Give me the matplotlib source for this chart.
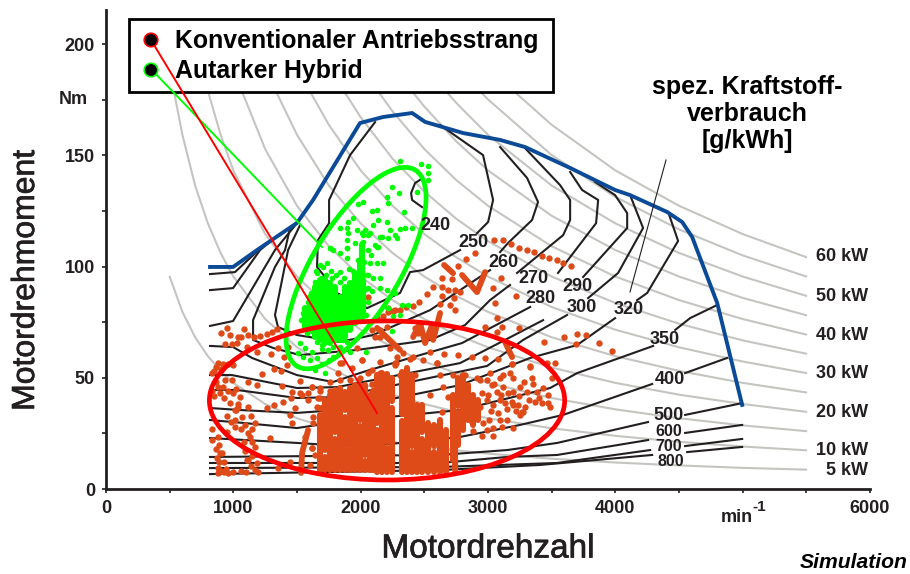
import matplotlib
matplotlib.use("Agg")
import matplotlib.pyplot as plt
import matplotlib.patheffects as pe
from matplotlib.patches import Ellipse, Rectangle
from matplotlib.transforms import Affine2D

plt.rcParams['font.family'] = ['Liberation Sans', 'DejaVu Sans']

# power hyperbolas, read at these speeds; each row is aligned to the right of GRID_RPM
GRID_RPM = [500, 600, 700, 800, 900, 1000, 1250, 1500, 1750, 2000, 2250, 2500, 2750, 3000, 3500, 4000, 4500, 5000, 5500]
POWER_START_RPM = [None, 536, 805, 1073, 1341, 1609, 1878, 2146, 2414, 2682, 2950, 3219]
POWER_TORQUE = [
    [95.5, 79.6, 68.2, 59.7, 53.1, 47.7, 38.2, 31.8, 27.3, 23.9, 21.2, 19.1, 17.4, 15.9, 13.6, 11.9, 10.6, 9.5, 8.7],
    [159.2, 136.4, 119.4, 106.1, 95.5, 76.4, 63.7, 54.6, 47.7, 42.4, 38.2, 34.7, 31.8, 27.3, 23.9, 21.2, 19.1, 17.4],
    [159.2, 143.2, 114.6, 95.5, 81.8, 71.6, 63.7, 57.3, 52.1, 47.7, 40.9, 35.8, 31.8, 28.6, 26.0],
    [152.8, 127.3, 109.1, 95.5, 84.9, 76.4, 69.4, 63.7, 54.6, 47.7, 42.4, 38.2, 34.7],
    [159.2, 136.4, 119.4, 106.1, 95.5, 86.8, 79.6, 68.2, 59.7, 53.1, 47.7, 43.4],
    [163.7, 143.2, 127.3, 114.6, 104.2, 95.5, 81.8, 71.6, 63.7, 57.3, 52.1],
    [167.1, 148.5, 133.7, 121.5, 111.4, 95.5, 83.6, 74.3, 66.8, 60.8],
    [169.8, 152.8, 138.9, 127.3, 109.1, 95.5, 84.9, 76.4, 69.4],
    [171.9, 156.3, 143.2, 122.8, 107.4, 95.5, 85.9, 78.1],
    [173.6, 159.2, 136.4, 119.4, 106.1, 95.5, 86.8],
    [175.1, 150.1, 131.3, 116.7, 105.0, 95.5],
    [163.7, 143.2, 127.3, 114.6, 104.2],
]
POWER_LABELS = ['60 kW', '50 kW', '40 kW', '30 kW', '20 kW', '10 kW', '5 kW']
POWER_LABEL_NM = [104.7, 86.7, 68.8, 52.1, 34.6, 17.1, 8.5]

FULL_LOAD_RPM = [817, 998, 1186, 1500, 1626, 1995, 2176, 2404, 2506, 2804, 3095, 3291, 3645, 3998, 4116, 4407, 4525, 4603, 4800, 4996]
FULL_LOAD_NM = [99.8, 99.8, 107.4, 119.6, 129.9, 164.5, 167.2, 169, 165, 160, 156.9, 153.7, 144.3, 134.4, 132.1, 124.5, 120, 113.3, 83.6, 37.8]

# fuel consumption isolines, broken where the labels sit
SFC_LINES = [
    ([2490, 2427, 2396, 2404, 2482], [139.8, 137.5, 133, 129.9, 126.7]),
    ([2113, 1917, 1752, 1752, 1665, 1657, 1720, 1799, 2050, 2309, 2388, 2490, 2781],
     [164.9, 150.1, 129.9, 119.5, 111.9, 99.8, 95.3, 88.5, 81.3, 88.1, 97.5, 98.4, 107.4]),
    ([2624, 2961, 3040, 3001, 2914], [163.6, 150.1, 129.9, 120, 115]),
    ([3095, 3307, 3393, 3346, 3158, 3095], [153.7, 139.8, 129, 120.9, 110.6, 106.5]),
    ([3291, 3566, 3645, 3645, 3590, 3228], [153.2, 136.6, 129.9, 120.9, 114.1, 97.1]),
    ([3645, 3739, 3865, 3849, 3550], [142.5, 134.4, 129.9, 119.5, 97.1]),
    ([3841, 3998, 4093, 4093, 3747], [138, 132.1, 124, 117.3, 95.3]),
    ([4116, 4218, 4022, 3786], [132.1, 117.3, 97.1, 85.8]),
    ([4415, 4493, 4250, 4171], [124.5, 111.5, 88.1, 84.9]),
    ([1524, 1430, 1327, 1351, 1500, 1838, 2097, 2545, 2781, 3016],
     [118.6, 107.4, 78.2, 72.8, 69.2, 66.1, 69.2, 80.4, 89.4, 98.4]),
    ([1445, 1406, 1327, 1155, 1155, 1312, 1524, 1972, 2545, 2820, 3016, 3173],
     [117.3, 107.4, 99.8, 75.9, 67, 63.4, 60.2, 62.5, 67, 73.7, 84.9, 91.7]),
    ([817, 998, 1147, 1500, 1783, 2019, 2412, 2796, 3331], [64.3, 63.8, 58.9, 51.2, 48.1, 52.6, 59.3, 65.6, 81.8]),
    ([817, 990, 1500, 1815, 2781, 3056, 3433], [51.2, 51.2, 45.4, 45.8, 56.6, 64.7, 75.9]),
    ([817, 1029, 1500, 1815, 2993, 3276, 3621], [44.5, 44.5, 40.9, 41.3, 55.3, 67, 78.2]),
    ([817, 1053, 1500, 1815, 2781, 3331, 3700, 3998], [36.4, 35.5, 34.2, 35.5, 46.7, 58.9, 64.7, 76.8]),
    ([817, 1076, 1500, 1815, 2781, 3488, 3700, 4297], [31, 29.7, 27.4, 30.1, 35.5, 45.4, 52.1, 64.3]),
    ([4470, 4587, 4800], [71.5, 76.8, 82.7]),
    ([817, 1500, 1995, 2781, 3252, 3590, 4289], [22.9, 20.7, 18.9, 23.4, 28.8, 33.3, 47.2]),
    ([4548, 4878], [52.1, 58.9]),
    ([817, 2624, 3150, 3543, 4257], [14.4, 15.3, 17.5, 20.7, 30.1]),
    ([4548, 4996], [33.3, 38.6]),
    ([817, 2624, 3150, 3543, 4257], [11.7, 11.7, 14.4, 15.3, 22]),
    ([4548, 4996], [25.2, 28.8]),
    ([817, 2624, 3543, 4273], [9.4, 9.9, 11.7, 17.5]),
    ([4548, 4996], [19.3, 22.5]),
    ([817, 2624, 3409, 4289], [6.7, 8.5, 10.8, 15.3]),
    ([4564, 4996], [16.6, 18.9]),
    ([817, 1013, 1131, 1225], [96.6, 97.5, 103.8, 108.8]),
    ([817, 998, 1210, 1343], [89.4, 90.3, 107.4, 113.7]),
    ([817, 998, 1327, 1500], [73.3, 75.5, 107.4, 119.5]),
]
SFC_LABELS = ['240', '250', '260', '270', '280', '290', '300', '320', '350', '400', '500', '600', '700', '800']
SFC_LABEL_RPM = [2584, 2883, 3118, 3354, 3409, 3700, 3739, 4108, 4391, 4430, 4415, 4422, 4422, 4438]
SFC_LABEL_NM = [118.6, 110.6, 101.6, 94.4, 85.8, 90.8, 81.8, 80.9, 67.4, 49.4, 33.2, 26.0, 19.2, 12.4]

# conventional drivetrain: dense runs of points as rpm / low / high, split where the cloud has holes
CONV_RUN_RPM = [1681, 1720, 1720, 1760, 1799, 1799, 1838, 1877, 1877, 1917, 1917, 1956, 1995, 1995, 2034, 2034, 2074, 2100,
                2129, 2129, 2168, 2207, 2207, 2247, 2247, 2325, 2325, 2364, 2404, 2404, 2443, 2482, 2482,
                2529, 2576, 2576, 2624, 2671, 2726, 2765, 2765, 2804, 2843, 2883, 2922, 2741]
CONV_RUN_LOW = [8.5, 8.5, 17.5, 8.5, 8.5, 25.5, 8.5, 8.5, 35.5, 8.5, 20, 8.5, 8.5, 31, 8.5, 15.5, 8.5, 8.5,
                7.6, 29.5, 7.6, 7.6, 21, 7.6, 39.5, 7.6, 33.5, 7.6, 7.6, 19.5, 7.6, 7.6, 25.5,
                7.6, 7.6, 19.5, 7.6, 7.6, 13, 19.8, 37.5, 26.5, 31, 28.8, 31, 8.5]
CONV_RUN_HIGH = [33.3, 14.5, 40, 42.2, 22.5, 44.5, 45.4, 32.5, 43.6, 17.5, 45.4, 46.7, 28.5, 46.7, 12.5, 46.7, 42.2, 44,
                 26.5, 51.2, 52.1, 18.5, 51.7, 36.5, 49.9, 30.5, 52.6, 54.4, 16.5, 51.2, 37.8, 22.5, 37.8,
                 29.7, 16.5, 28.8, 31, 26.5, 42.2, 34.5, 49.9, 51.2, 46.7, 42.2, 40, 20.7]
# wandering runs of points
CONV_TRACES = [
    ([2655, 2726], [100.7, 97]),
    ([2796, 2914, 2977], [96.2, 88.5, 97.5]),
    ([2412, 2467, 2506, 2561, 2569, 2624], [68.3, 74.6, 65.6, 73.7, 67, 79.1]),
    ([3134, 3189], [66.1, 59.3]),
    ([2129, 2309], [72.4, 62.5]),
    ([1587, 1540, 1532], [26.5, 16.2, 7.2]),
]
CONV_RPM = [
    3048, 3118, 3181, 3244, 3307, 3362, 3425, 3480, 3543, 3590, 3653,
    2899, 2828, 2765, 2639, 2718, 2569, 2639, 2521, 2459, 2412, 2357, 2309, 2254, 2215, 2176, 2129, 2639, 2686, 2741, 2781,
    2734, 2702, 2741, 2624, 3103, 3040, 3221, 3056, 3071, 2977, 3111, 3244, 3071, 3441, 3598, 3700, 3770, 3692, 3873, 3975,
    3189, 3079, 2977, 2875, 2765, 2655, 2545, 2600, 2490, 2388, 2278, 2152, 3331, 3464,
    903, 948, 974, 1040, 1087, 1060, 1118, 1165, 1210, 1262, 1301, 1340, 935, 987, 1032, 1105, 1183, 1296, 1348, 1401, 1322,
    1375, 1228, 1118, 1183, 1380, 1464, 1524, 1615, 1681, 1759, 1393, 1524, 1589, 1681, 1453, 1322, 1262, 1484, 1445, 1464,
    1288, 1628, 1681, 1720, 1615, 1445, 1602, 1354, 1105, 1183,
    2218, 2270, 2061, 2152, 2231, 2008, 1851, 1930, 1969, 2270, 1419, 1432, 1825, 2061, 2152, 2414, 2453, 2427, 2152, 2205,
    2087, 2113, 2283, 2336,
    2912, 2990, 3029, 3003, 3069, 3121, 3173, 3200, 3103, 3160, 3200, 3095, 3042, 3134, 3186, 3239, 3291, 3265, 3304, 3383,
    3435, 3474, 3370, 3422, 3474, 3487, 3343, 3330, 3501, 3095, 3147, 3200, 3042, 2964, 3278, 3252, 3200, 2872, 2990, 3527,
    3186, 3095, 3016, 2938, 2728, 2820, 2624, 2597, 2427, 2309, 2270, 2087, 1838, 2008, 2545, 2650, 2689, 2637, 1655, 1707,
    1589, 1681, 1616, 1668, 1537, 1563, 1616, 1629, 1642,
    # left cluster
    832, 850, 860, 880, 905, 920, 960, 998, 935, 915, 895, 925, 974, 1020, 1068, 1090, 1115, 990, 1020, 1053, 1035, 1013, 1013,
    1013, 950, 880, 888, 895, 885, 880, 880, 911, 925, 940, 958, 1170, 1150, 1131, 1150, 1170, 1140, 1115, 1170, 1140, 1115,
    860, 830, 880, 850, 960, 1000, 1040, 950, 985, 1060, 1085, 830, 830, 860, 870, 900, 1090, 1150, 1060, 1100, 1190, 925, 1000,
    # edge of the main block and right cluster
    1760, 1838, 1917, 1995, 2090, 2950, 2990, 3020, 3080, 3120, 3250, 3320, 3350, 3400, 3240, 3280, 3050, 3150, 3220, 3110,
    2940, 3010, 2900, 2880, 2950, 3040,
]
CONV_NM = [
    111.9, 111.9, 110.1, 108.3, 107.4, 106.5, 104.7, 103.8, 102.9, 101.6, 100.2,
    106.1, 103.4, 100.2, 94.8, 94.4, 90.8, 90.8, 87.6, 84, 82.2, 81.8, 80.4, 80, 79.5, 77.7, 76.8, 86.7, 89.4, 89.4, 88.5,
    85.8, 82.7, 80.4, 83.1, 94.8, 90.3, 86.7, 83.6, 76.8, 72.8, 72.8, 72.4, 70.6, 66.1, 68.3, 69.7, 69.2, 65.2, 65.6, 62,
    56.2, 58.4, 58.9, 59.3, 60.2, 60.7, 61.6, 56.6, 58, 58.4, 56.6, 57.1, 55.3, 56.6,
    70.3, 72.2, 69.2, 68.5, 71.8, 68.5, 69.2, 68.5, 68.8, 69.7, 70.7, 71.8, 65.2, 65.2, 65.8, 63.7, 61.7, 60.5, 63.2, 59.2, 53.8,
    53, 51.7, 48.2, 46.7, 46.3, 43.7, 48.5, 46, 44.2, 48.2, 39.2, 43, 40, 40.7, 40.7, 37.8, 36.3, 36.3, 33.3, 29.5,
    22.8, 32.5, 36.3, 37.8, 18.3, 12.3, 10.8, 9.3, 13, 11.8,
    81.2, 80.4, 86.4, 68.5, 63.2, 58, 56.5, 54.2, 63.2, 56.5, 55.7, 64, 52, 52, 52, 59.5, 70, 72.2, 71.5, 73,
    71.5, 68.5, 59.5, 61,
    49.8, 49, 46.8, 42.3, 43.8, 51.3, 52.3, 49.8, 42.3, 43, 43.8, 40, 37.8, 38.5, 39.3, 37.8, 37, 34.8, 43.8, 43.8,
    45.3, 42.3, 39.3, 38.5, 38.5, 37, 49.8, 55, 49.8, 31, 31, 27.3, 27.3, 29.5, 34.8, 33.3, 37.8, 30.3, 26.5, 56.5,
    56.2, 49.8, 52, 49, 51.3, 51.3, 51.3, 56.5, 51.3, 51.3, 55.8, 53.5, 56.5, 58, 42.3, 46, 41.5, 34.8, 37, 37,
    43, 45.3, 46, 40.8, 42.3, 23.5, 18.3, 29.5, 15.3,
    # left cluster
    52.1, 53, 55, 56.6, 54, 56, 56, 55.7, 49, 46, 43.1, 41, 38.6, 35.5, 32.4, 28.8, 25.2, 49, 45, 41.3, 38, 35.5, 31,
    27.9, 25.5, 23.4, 20, 16.2, 12, 7.2, 9.5, 16.2, 12, 9, 7.2, 18.9, 21, 23.4, 27, 29.7, 33, 36.9, 8.5, 10.5, 13,
    48, 44, 46, 42, 44, 43, 37, 33, 30, 27, 21, 27, 22, 18, 14, 8, 17, 15, 8, 7.5, 7.5, 7.5, 7.5,
    # edge of the main block and right cluster
    44, 49, 49, 50, 47, 43, 40, 35, 34, 46, 46, 40, 47, 41, 42, 48, 47, 36, 35, 28,
    37, 31, 33, 26, 24, 24,
]

# autarkic hybrid
HYBRID_RUN_RPM = [1563, 1603, 1642, 1681, 1720, 1760, 1799, 1838, 1878, 1917, 1956, 1995, 2008, 2022]
HYBRID_RUN_LOW = [73, 71.5, 68.5, 67, 65.5, 65.5, 67, 67, 68.5, 71.5, 74.5, 76, 79, 77.4]
HYBRID_RUN_HIGH = [81.2, 86.4, 90.9, 93.9, 93.9, 92.4, 90.9, 86.4, 90.9, 92.4, 96.9, 101.4, 109.7, 93.9]
HYBRID_RPM = [
    2309, 2474, 2247, 2302, 2443, 2019, 1979, 2207, 2215, 2341, 2089, 2129, 1940, 1901, 1838, 1893, 1972, 2035, 2097, 2137,
    2207, 2231, 2309, 2349, 2404, 2286, 2168, 2074, 2019, 1893, 1760, 1893, 2011, 2129, 2530, 2530, 2530,
    1524, 1563, 1511, 1550, 1616, 1655, 1642, 1720, 1786, 1747, 1694, 1864, 1838, 1917, 2042, 2244, 2061, 2152, 2205, 2270,
    2323, 2375, 2309, 2257, 2218, 2061, 2100, 2152, 2179, 2126, 2074, 2113, 2139, 2061, 2079, 1956, 2016, 1891, 1904, 2008,
    2061, 2152, 2218, 2270, 1838, 1760, 1786, 1891, 1838, 1707, 1733, 1681, 1655, 1642, 1773, 1720,
    1650, 1690, 1730, 1770, 1810, 1840, 1870, 1910, 1940, 1980, 2030, 2050, 2040, 2020, 2060, 2040, 2090, 1610, 1590, 1550,
    1535, 1620, 1580, 1700, 1780, 1830, 1660, 1890, 1750, 1700, 1600,
]
HYBRID_NM = [
    147.4, 146, 135.7, 133, 133.5, 129, 128, 131.2, 128.5, 124.5, 124.9, 125.4, 121.8, 120, 117.3, 117.3, 116.4, 116.4, 118.6, 120.9,
    120, 116.4, 116.8, 117.3, 117.3, 112.8, 113.2, 115, 114.1, 111.9, 108.3, 108.3, 110.6, 108.8, 145, 142, 139,
    65.5, 63.2, 61, 59.5, 61.7, 58.7, 53.5, 52, 59.5, 62.5, 64.7, 67, 64, 61.7, 61.4, 71, 90.2, 90.2, 89.4, 88,
    82.7, 82.7, 78.2, 77.8, 81.2, 96.2, 94.7, 94.7, 101.4, 101.4, 101.4, 109.7, 108.9, 107.4, 105.2, 110.4, 110.9, 108.2, 114.9, 114.9,
    114.2, 113.1, 112.7, 114.2, 105.9, 108.2, 107.4, 103.7, 97.7, 99.9, 101.7, 100.7, 96.9, 93.2, 94.7, 93.9,
    98, 95, 96, 98, 96, 93, 95, 99, 98, 103, 102, 96, 90, 86, 84, 78, 89, 88, 84, 79,
    76, 71, 70, 63, 64, 61, 66, 66, 58, 56, 58,
]

CONV_COLOR = '#DF4A19'
BLACK = '#231F20'


def main():
    fig = plt.figure(figsize=(9.10, 5.74), dpi=100)
    ax = fig.add_axes([106 / 910, 85 / 574, 764 / 910, 479 / 574])
    ax.set_xlim(0, 6000)
    ax.set_ylim(0, 215.3)

    # 1. power curves
    for start, row in zip(POWER_START_RPM, POWER_TORQUE):
        rpm = GRID_RPM[-len(row):]
        nm = list(row)
        if start:
            rpm = [start] + rpm
            nm = [178] + nm
        ax.plot(rpm, nm, color='#C4C4C0', lw=1.5, zorder=1, solid_capstyle='round')

    for label, nm in zip(POWER_LABELS, POWER_LABEL_NM):
        ax.text(5985, nm, label, ha='right', va='center', fontsize=13, fontweight='bold', color=BLACK, zorder=8)

    # 2. isolines and full load
    for rpm, nm in SFC_LINES:
        ax.plot(rpm, nm, color=BLACK, lw=1.5, zorder=2)
    ax.plot(FULL_LOAD_RPM, FULL_LOAD_NM, color='#0B4A96', lw=2.8, zorder=3, solid_joinstyle='round')

    # the three lowest labels are stacked tightly, so they are a little smaller
    for label, x, y in zip(SFC_LABELS, SFC_LABEL_RPM, SFC_LABEL_NM):
        size = 11.5 if label in ('600', '700', '800') else 13
        ax.text(x, y, label, ha='center', va='center', fontsize=size, fontweight='bold', color=BLACK, zorder=8)

    # 3. operating points
    ax.vlines(CONV_RUN_RPM, CONV_RUN_LOW, CONV_RUN_HIGH, color=CONV_COLOR, lw=4.4, capstyle='round', zorder=4)
    for rpm, nm in CONV_TRACES:
        ax.plot(rpm, nm, color=CONV_COLOR, lw=4.2, solid_capstyle='round', solid_joinstyle='round', zorder=4)
    ax.scatter(CONV_RPM, CONV_NM, s=21, color=CONV_COLOR, linewidths=0, zorder=4)
    ax.vlines(HYBRID_RUN_RPM, HYBRID_RUN_LOW, HYBRID_RUN_HIGH, color='#00FF00', lw=4.4, capstyle='round', zorder=5)
    ax.scatter(HYBRID_RPM, HYBRID_NM, s=16, color='#00FF00', linewidths=0, zorder=5)

    # 4. ellipses; the green one is tilted on the page, so it is sized in pixels
    centre = ax.transData.transform((1964, 99.3))
    ax.add_patch(Ellipse((0, 0), 229, 88, angle=59, fill=False, edgecolor='#00FF00', lw=3.4, zorder=6,
                         transform=Affine2D().translate(*centre)))
    ax.add_patch(Ellipse((2207, 39.8), 2790, 71.5, fill=False, edgecolor='#FF0000', lw=3.4, zorder=7))

    # axes
    for side in ('top', 'right'):
        ax.spines[side].set_visible(False)
    for side in ('left', 'bottom'):
        ax.spines[side].set_linewidth(2)
        ax.spines[side].set_color(BLACK)
    ax.set_xticks(range(0, 6001, 500))
    ax.set_xticklabels(['0', '', '1000', '', '2000', '', '3000', '', '4000', '', '', '', '6000'])
    ax.set_yticks(range(0, 201, 25))
    ax.set_yticklabels(['0', '', '50', '', '100', '', '150', '', '200'])
    ax.tick_params(axis='both', length=3, width=1.2, color=BLACK, labelsize=13, labelcolor=BLACK, pad=5)
    for t in ax.get_xticklabels() + ax.get_yticklabels():
        t.set_fontweight('bold')

    ax.text(-140, 175, 'Nm', ha='right', va='center', fontsize=13, fontweight='bold', color=BLACK, clip_on=False)
    ax.text(4957, -12.6, 'min', ha='center', va='center', fontsize=13, fontweight='bold', color=BLACK, clip_on=False)
    ax.text(5129, -8.1, '-1', ha='center', va='center', fontsize=11, fontweight='bold', color=BLACK, clip_on=False)

    heavy = [pe.withStroke(linewidth=0.5, foreground=BLACK)]
    fig.text(488 / 910, 1 - 549 / 574, 'Motordrehzahl', ha='center', va='center', fontsize=24, color=BLACK,
             path_effects=heavy)
    fig.text(26 / 910, 1 - 280 / 574, 'Motordrehmoment', rotation=90, ha='center', va='center', fontsize=23,
             color=BLACK, path_effects=heavy)
    fig.text(908 / 910, 1 - 563 / 574, 'Simulation', ha='right', va='center', fontsize=15.2, fontweight='bold',
             style='italic', color='black')
    fig.text(747 / 910, 1 - 114 / 574, 'spez. Kraftstoff-\nverbrauch\n[g/kWh]', ha='center', va='center',
             fontsize=18, fontweight='bold', color='black', linespacing=1.17)

    # 5. legend box
    fig.add_artist(Rectangle((129 / 910, 1 - 92 / 574), 424 / 910, 73 / 574, transform=fig.transFigure,
                             facecolor='white', edgecolor='black', lw=2, zorder=9))
    fig.text(175 / 910, 1 - 41 / 574, 'Konventionaler Antriebsstrang', ha='left', va='center', fontsize=17.9,
             fontweight='bold', color='black', zorder=10)
    fig.text(175 / 910, 1 - 71 / 574, 'Autarker Hybrid', ha='left', va='center', fontsize=17.9,
             fontweight='bold', color='black', zorder=10)

    # leader lines run over everything, from the legend dots into the clouds
    overlay = fig.add_axes([0, 0, 1, 1], facecolor='none', zorder=20)
    overlay.set_xlim(0, 910)
    overlay.set_ylim(574, 0)
    overlay.axis('off')
    overlay.plot([151, 322], [69, 247], color='#00FF00', lw=1.4)
    overlay.plot([151, 377], [40, 413], color='#FF0000', lw=1.4)
    overlay.plot([666, 630], [160, 292], color=BLACK, lw=0.8)
    overlay.scatter([151, 151], [40, 70], s=95, c='black', edgecolors=['#FF0000', '#00FF00'], linewidths=1.2, zorder=5)

    fig.savefig('out.png', dpi=100)
    plt.close(fig)


if __name__ == "__main__":
    main()
